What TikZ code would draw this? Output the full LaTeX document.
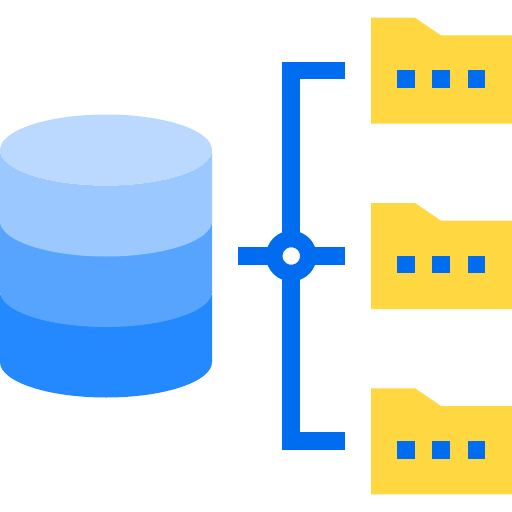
\documentclass[tikz,border=0pt]{standalone}
\definecolor{lineblue}{HTML}{006DF0}
\definecolor{folderyellow}{HTML}{FFD740}
\definecolor{toplight}{HTML}{BBD8FF}
\definecolor{bandone}{HTML}{9BC9FF}
\definecolor{bandtwo}{HTML}{57A4FF}
\definecolor{bandthree}{HTML}{2488FF}
\tikzset{
  x=1pt,y=-1pt,
  wire/.style={draw=lineblue,line width=17.7pt,line cap=butt,line join=miter},
  foldershape/.pic={
    \fill[folderyellow] (371,0) -- (415,0) -- (441,17.7) -- (512,17.7) -- (512,106) -- (371,106) -- cycle;
    \fill[lineblue] (397,52.5) rectangle (415,70.2);
    \fill[lineblue] (432.3,52.5) rectangle (450,70.2);
    \fill[lineblue] (467.6,52.5) rectangle (485.3,70.2);
  },
  band/.pic={
    \fill[pic actions] (0,0) arc[start angle=180,end angle=0,x radius=106,y radius=35.5] -- (212,-71) arc[start angle=0,end angle=180,x radius=106,y radius=35.5] -- cycle;
  }
}
\begin{document}
\begin{tikzpicture}
\useasboundingbox (0,0) rectangle (512,512);
% cylinder
\pic[fill=bandthree] at (0,362) {band};
\pic[fill=bandtwo] at (0,291.5) {band};
\pic[fill=bandone] at (0,221) {band};
\fill[toplight] (106,150) ellipse[x radius=106,y radius=35.5];
% connectors
\coordinate (topend) at (344.5,70.6);
\coordinate (topcorner) at (291.3,70.6);
\coordinate (botcorner) at (291.3,441);
\coordinate (botend) at (344.5,441);
\coordinate (leftend) at (238,256);
\coordinate (rightend) at (344.5,256);
\draw[wire] (topend) -- (topcorner) -- (botcorner) -- (botend);
\draw[wire] (leftend) -- (rightend);
\node[circle,draw=lineblue,line width=16.5pt,fill=white,minimum size=34pt,inner sep=0pt,outer sep=0pt] (hub) at (291.3,256) {};
% folders
\pic at (0,17.7) {foldershape};
\pic at (0,203) {foldershape};
\pic at (0,388.3) {foldershape};
\end{tikzpicture}
\end{document}
